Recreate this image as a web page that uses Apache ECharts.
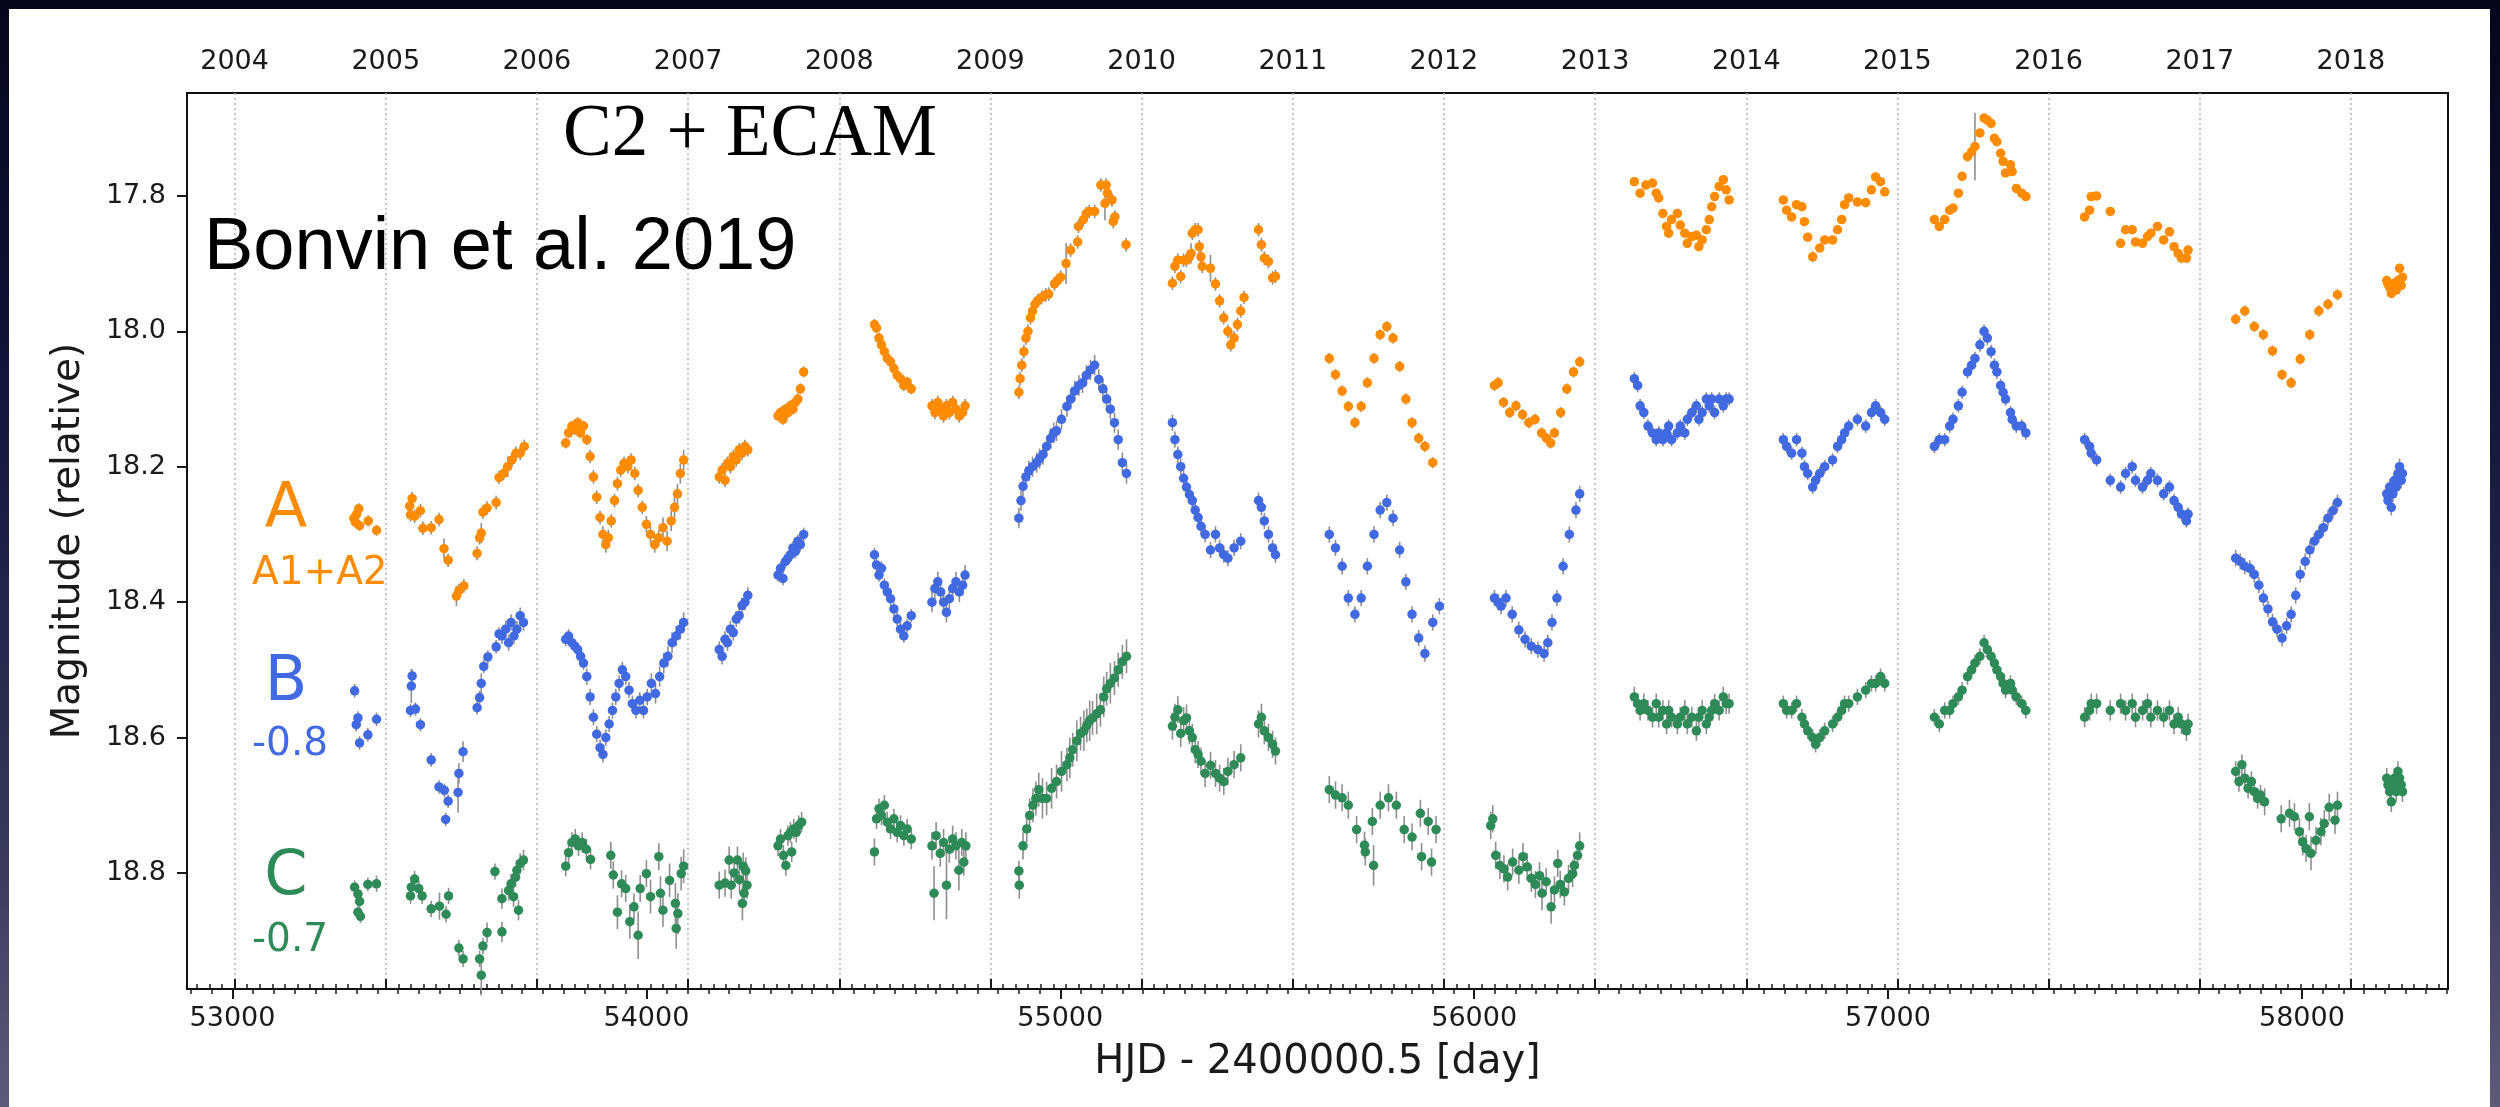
<!DOCTYPE html>
<html>
<head>
<meta charset="utf-8">
<title>C2 + ECAM light curves</title>
<script src="https://cdn.jsdelivr.net/npm/echarts@6/dist/echarts.min.js"></script>
<style>
  html, body { margin: 0; padding: 0; width: 2500px; height: 1107px; overflow: hidden;
    background: linear-gradient(180deg, #05061a 0%, #12143a 35%, #36355a 75%, #5e5a7a 100%); }
  #panel { position: absolute; left: 9px; top: 9px; width: 2481px; height: 1098px; background: #ffffff; }
  #chart { position: absolute; left: 0; top: 0; width: 2500px; height: 1107px; }
</style>
</head>
<body>
<div id="panel"></div>
<div id="chart"></div>
<script>
// Light curves: [HJD - 2400000.5, magnitude as plotted, 1-sigma error]
const curveA = [
  // 2004
  [53293,18.276,0.008],[53297,18.282,0.008],[53300,18.270,0.008],[53305,18.262,0.008],[53307,18.287,0.008],[53328,18.280,0.008],[53348,18.294,0.008],
  // 2005
  [53428,18.258,0.010],[53430,18.271,0.010],[53434,18.247,0.010],[53440,18.273,0.010],[53454,18.265,0.010],[53460,18.291,0.010],[53480,18.290,0.010],
  [53499,18.278,0.010],[53511,18.321,0.015],[53521,18.338,0.010],[53541,18.391,0.015],[53547,18.383,0.010],[53559,18.376,0.010],[53591,18.328,0.010],
  [53597,18.305,0.010],[53601,18.298,0.015],[53605,18.267,0.010],[53615,18.261,0.010],[53637,18.253,0.010],[53644,18.216,0.010],[53655,18.210,0.010],
  [53665,18.200,0.015],[53675,18.190,0.010],[53685,18.180,0.010],[53695,18.180,0.010],[53705,18.170,0.010],
  // 2006
  [53805,18.165,0.008],[53812,18.150,0.008],[53820,18.140,0.008],[53827,18.145,0.008],[53834,18.135,0.008],[53841,18.150,0.008],[53848,18.140,0.008],
  [53856,18.160,0.008],[53864,18.185,0.010],[53872,18.215,0.010],[53880,18.245,0.010],[53888,18.275,0.010],[53895,18.300,0.012],[53902,18.315,0.012],
  [53908,18.305,0.012],[53915,18.280,0.010],[53923,18.250,0.010],[53930,18.225,0.010],[53938,18.205,0.010],[53946,18.195,0.010],[53955,18.200,0.010],
  [53963,18.190,0.010],[53972,18.210,0.010],[53980,18.235,0.010],[53990,18.260,0.010],[54000,18.285,0.012],[54010,18.300,0.012],[54020,18.315,0.012],
  [54030,18.305,0.012],[54040,18.290,0.015],[54050,18.310,0.015],[54060,18.280,0.015],[54068,18.260,0.015],[54075,18.240,0.015],[54082,18.210,0.015],
  [54090,18.190,0.015],
  // 2007
  [54176,18.215,0.010],[54183,18.205,0.010],[54190,18.220,0.010],[54196,18.195,0.010],[54203,18.200,0.010],[54210,18.185,0.010],[54217,18.190,0.010],
  [54224,18.175,0.010],[54231,18.180,0.010],[54238,18.170,0.010],[54245,18.175,0.010],
  [54318,18.125,0.008],[54324,18.120,0.008],[54330,18.130,0.008],[54336,18.115,0.008],[54342,18.120,0.008],[54348,18.110,0.008],[54354,18.115,0.008],
  [54360,18.105,0.008],[54366,18.100,0.008],[54372,18.085,0.008],[54380,18.060,0.008],
  // 2008
  [54551,17.990,0.008],[54556,17.995,0.008],[54562,18.010,0.008],[54568,18.020,0.008],[54575,18.030,0.008],[54582,18.040,0.008],[54590,18.045,0.008],
  [54598,18.055,0.008],[54606,18.065,0.008],[54614,18.070,0.008],[54622,18.080,0.008],[54630,18.075,0.008],[54640,18.085,0.008],
  [54690,18.110,0.010],[54697,18.120,0.010],[54704,18.105,0.010],[54711,18.115,0.010],[54718,18.125,0.010],[54725,18.110,0.010],[54732,18.120,0.010],
  [54740,18.105,0.010],[54748,18.115,0.010],[54756,18.125,0.010],[54764,18.120,0.010],[54770,18.110,0.010],
  // 2009
  [54900,18.090,0.010],[54903,18.070,0.010],[54907,18.050,0.010],[54912,18.030,0.010],[54917,18.010,0.010],[54922,18.000,0.010],[54928,17.980,0.010],
  [54933,17.970,0.010],[54939,17.960,0.010],[54945,17.955,0.010],[54955,17.950,0.010],[54965,17.946,0.010],[54972,17.945,0.010],[54986,17.930,0.010],
  [54993,17.925,0.010],[55001,17.920,0.010],[55014,17.900,0.030],[55025,17.880,0.010],[55042,17.868,0.010],[55044,17.845,0.010],[55056,17.835,0.010],
  [55063,17.826,0.010],[55070,17.823,0.010],[55083,17.823,0.010],[55098,17.784,0.010],[55108,17.811,0.025],[55111,17.784,0.010],[55114,17.796,0.010],
  [55125,17.806,0.010],[55128,17.838,0.010],[55132,17.831,0.010],[55159,17.872,0.010],
  // 2010
  [55271,17.929,0.010],[55277,17.904,0.010],[55284,17.895,0.010],[55291,17.919,0.010],[55298,17.895,0.010],[55305,17.895,0.010],[55312,17.890,0.010],
  [55316,17.885,0.015],[55319,17.855,0.010],[55326,17.850,0.010],[55333,17.850,0.010],[55336,17.875,0.010],[55340,17.890,0.010],[55343,17.904,0.010],
  [55363,17.907,0.020],[55375,17.930,0.010],[55385,17.955,0.010],[55395,17.980,0.010],[55405,18.000,0.010],[55412,18.020,0.010],[55420,18.010,0.010],
  [55428,17.990,0.010],[55436,17.970,0.010],[55444,17.950,0.010],[55479,17.850,0.010],[55486,17.872,0.010],[55493,17.892,0.010],[55503,17.897,0.010],
  [55513,17.921,0.010],[55520,17.919,0.010],
  // 2011
  [55650,18.040,0.008],[55665,18.064,0.008],[55681,18.088,0.008],[55696,18.111,0.008],[55712,18.135,0.008],[55727,18.111,0.008],[55742,18.076,0.008],
  [55758,18.040,0.008],[55773,18.005,0.008],[55789,17.993,0.008],[55804,18.010,0.008],[55820,18.052,0.008],[55835,18.100,0.008],[55850,18.135,0.008],
  [55866,18.158,0.008],[55881,18.170,0.008],[55900,18.194,0.008],
  // 2012
  [56049,18.080,0.008],[56058,18.076,0.008],[56071,18.105,0.008],[56086,18.120,0.008],[56101,18.110,0.008],[56117,18.123,0.008],[56132,18.135,0.008],
  [56147,18.130,0.008],[56163,18.150,0.008],[56175,18.158,0.008],[56185,18.165,0.008],[56194,18.150,0.008],[56209,18.120,0.008],[56224,18.085,0.008],
  [56240,18.060,0.008],[56255,18.045,0.008],
  // 2013
  [56387,17.779,0.006],[56401,17.796,0.006],[56415,17.784,0.006],[56431,17.781,0.006],[56440,17.796,0.006],[56446,17.803,0.006],[56456,17.826,0.006],
  [56465,17.845,0.006],[56470,17.855,0.006],[56477,17.835,0.006],[56491,17.826,0.006],[56498,17.843,0.006],[56509,17.855,0.006],[56515,17.870,0.006],
  [56526,17.860,0.006],[56537,17.858,0.006],[56543,17.875,0.006],[56551,17.865,0.006],[56561,17.850,0.006],[56568,17.835,0.006],[56574,17.816,0.006],
  [56581,17.801,0.006],[56592,17.786,0.006],[56602,17.776,0.006],[56609,17.791,0.006],[56616,17.806,0.006],
  // 2014
  [56747,17.806,0.006],[56755,17.821,0.006],[56767,17.831,0.006],[56779,17.813,0.006],[56792,17.816,0.006],[56798,17.838,0.006],[56806,17.861,0.006],
  [56818,17.890,0.008],[56835,17.877,0.006],[56847,17.865,0.006],[56866,17.865,0.006],[56878,17.850,0.006],[56888,17.835,0.006],[56895,17.813,0.006],
  [56905,17.803,0.006],[56926,17.809,0.006],[56946,17.810,0.006],[56960,17.791,0.006],[56970,17.772,0.006],[56982,17.779,0.006],[56992,17.794,0.006],
  // 2015
  [57112,17.835,0.006],[57124,17.845,0.006],[57137,17.835,0.006],[57149,17.821,0.006],[57157,17.818,0.006],[57170,17.796,0.006],[57179,17.771,0.006],
  [57192,17.742,0.006],[57202,17.735,0.006],[57210,17.727,0.050],[57222,17.707,0.006],[57232,17.685,0.006],[57240,17.688,0.006],[57249,17.693,0.006],
  [57257,17.715,0.006],[57263,17.720,0.006],[57272,17.737,0.006],[57278,17.749,0.006],[57284,17.766,0.006],[57296,17.754,0.006],[57300,17.764,0.006],
  [57310,17.789,0.006],[57323,17.796,0.006],[57333,17.801,0.006],
  // 2016
  [57475,17.831,0.006],[57487,17.821,0.006],[57491,17.801,0.006],[57504,17.800,0.006],[57537,17.823,0.006],[57562,17.870,0.006],[57574,17.850,0.006],
  [57590,17.850,0.006],[57598,17.868,0.006],[57615,17.870,0.006],[57627,17.860,0.006],[57635,17.855,0.006],[57651,17.845,0.006],[57666,17.865,0.006],
  [57680,17.853,0.006],[57691,17.875,0.006],[57701,17.885,0.006],[57709,17.892,0.006],[57721,17.892,0.006],[57725,17.880,0.006],
  // 2017
  [57840,17.982,0.008],[57862,17.970,0.008],[57885,17.993,0.008],[57907,18.005,0.008],[57929,18.029,0.008],[57952,18.064,0.008],[57974,18.076,0.008],
  [57996,18.041,0.008],[58019,18.005,0.008],[58041,17.970,0.008],[58063,17.960,0.008],[58086,17.946,0.008],
  // 2018
  [58205,17.925,0.006],[58208,17.930,0.006],[58212,17.935,0.006],[58216,17.944,0.006],[58220,17.930,0.006],[58224,17.929,0.006],[58228,17.939,0.006],
  [58232,17.925,0.006],[58236,17.907,0.006],[58240,17.932,0.006],[58243,17.920,0.006]
];

const curveB = [
  // 2004
  [53295,18.531,0.010],[53303,18.571,0.010],[53299,18.581,0.010],[53307,18.608,0.010],[53327,18.596,0.010],[53348,18.573,0.010],
  // 2005
  [53432,18.524,0.025],[53434,18.509,0.010],[53430,18.560,0.010],[53442,18.558,0.010],[53454,18.581,0.010],[53480,18.633,0.010],[53499,18.673,0.010],
  [53512,18.678,0.010],[53521,18.694,0.010],[53515,18.721,0.010],[53545,18.681,0.030],[53547,18.653,0.015],[53557,18.621,0.015],[53591,18.556,0.010],
  [53597,18.541,0.010],[53601,18.520,0.015],[53607,18.495,0.010],[53617,18.481,0.010],[53637,18.466,0.010],[53644,18.447,0.010],[53651,18.450,0.012],
  [53660,18.440,0.012],[53667,18.460,0.012],[53673,18.430,0.012],[53680,18.450,0.012],[53687,18.440,0.012],[53695,18.420,0.012],[53703,18.430,0.012],
  // 2006
  [53805,18.455,0.010],[53812,18.450,0.010],[53820,18.460,0.010],[53827,18.465,0.010],[53834,18.470,0.010],[53841,18.480,0.010],[53848,18.490,0.010],
  [53856,18.510,0.012],[53864,18.540,0.012],[53872,18.570,0.012],[53880,18.595,0.012],[53888,18.615,0.012],[53895,18.625,0.012],[53902,18.600,0.012],
  [53910,18.580,0.012],[53918,18.560,0.012],[53926,18.540,0.012],[53934,18.520,0.012],[53942,18.500,0.012],[53950,18.510,0.012],[53958,18.530,0.012],
  [53966,18.550,0.012],[53975,18.560,0.012],[53984,18.545,0.012],[53993,18.560,0.012],[54002,18.540,0.012],[54012,18.520,0.015],[54022,18.535,0.015],
  [54032,18.510,0.015],[54042,18.490,0.015],[54052,18.480,0.015],[54062,18.460,0.015],[54072,18.450,0.015],[54082,18.440,0.015],[54090,18.430,0.015],
  // 2007
  [54176,18.470,0.012],[54183,18.480,0.012],[54190,18.455,0.012],[54196,18.460,0.012],[54203,18.440,0.012],[54210,18.445,0.012],[54217,18.425,0.012],
  [54224,18.420,0.012],[54231,18.405,0.012],[54238,18.400,0.012],[54245,18.390,0.012],
  [54318,18.360,0.010],[54324,18.350,0.010],[54330,18.365,0.010],[54336,18.340,0.010],[54342,18.335,0.010],[54348,18.330,0.010],[54354,18.320,0.010],
  [54360,18.325,0.010],[54366,18.310,0.010],[54372,18.315,0.010],[54380,18.300,0.010],
  // 2008
  [54551,18.330,0.010],[54556,18.345,0.010],[54562,18.360,0.010],[54568,18.350,0.010],[54575,18.375,0.010],[54582,18.385,0.010],[54590,18.395,0.010],
  [54598,18.410,0.010],[54606,18.425,0.010],[54614,18.440,0.010],[54622,18.450,0.010],[54630,18.435,0.010],[54640,18.420,0.010],
  [54690,18.400,0.015],[54697,18.380,0.015],[54704,18.370,0.015],[54711,18.385,0.015],[54718,18.400,0.015],[54725,18.415,0.015],[54732,18.395,0.015],
  [54740,18.380,0.015],[54748,18.370,0.015],[54756,18.385,0.015],[54764,18.375,0.015],[54770,18.360,0.015],
  // 2009
  [54900,18.276,0.015],[54905,18.250,0.015],[54910,18.229,0.015],[54917,18.215,0.015],[54924,18.206,0.015],[54933,18.200,0.015],[54943,18.194,0.015],
  [54950,18.188,0.015],[54958,18.182,0.015],[54967,18.170,0.015],[54977,18.158,0.015],[54984,18.150,0.015],[54991,18.147,0.015],[55003,18.130,0.015],
  [55016,18.111,0.015],[55025,18.100,0.015],[55035,18.088,0.015],[55045,18.080,0.015],[55054,18.076,0.015],[55063,18.065,0.015],[55073,18.057,0.015],
  [55083,18.050,0.015],[55093,18.071,0.015],[55103,18.085,0.015],[55112,18.100,0.015],[55121,18.115,0.015],[55131,18.135,0.015],[55140,18.160,0.015],
  [55150,18.194,0.015],[55160,18.210,0.015],
  // 2010
  [55271,18.135,0.012],[55277,18.160,0.012],[55284,18.182,0.012],[55291,18.200,0.012],[55298,18.217,0.012],[55305,18.230,0.012],[55312,18.241,0.012],
  [55319,18.250,0.012],[55326,18.264,0.012],[55333,18.275,0.012],[55340,18.288,0.012],[55350,18.300,0.012],[55363,18.323,0.012],[55375,18.300,0.012],
  [55385,18.320,0.012],[55395,18.330,0.012],[55405,18.335,0.012],[55420,18.320,0.012],[55436,18.310,0.012],
  [55479,18.250,0.012],[55486,18.260,0.012],[55493,18.280,0.012],[55503,18.300,0.012],[55513,18.320,0.012],[55520,18.330,0.012],
  // 2011
  [55650,18.300,0.012],[55665,18.320,0.012],[55681,18.347,0.012],[55696,18.394,0.012],[55712,18.418,0.012],[55727,18.394,0.012],[55742,18.347,0.012],
  [55758,18.300,0.012],[55773,18.264,0.012],[55789,18.253,0.012],[55804,18.276,0.012],[55820,18.323,0.012],[55835,18.370,0.012],[55850,18.418,0.012],
  [55866,18.453,0.012],[55881,18.476,0.012],[55900,18.430,0.012],[55916,18.406,0.012],
  // 2012
  [56049,18.394,0.012],[56058,18.400,0.012],[56065,18.406,0.012],[56077,18.394,0.012],[56092,18.418,0.012],[56108,18.441,0.012],[56123,18.455,0.012],
  [56138,18.465,0.012],[56154,18.470,0.012],[56169,18.476,0.012],[56178,18.460,0.012],[56188,18.430,0.012],[56200,18.394,0.012],[56215,18.347,0.012],
  [56230,18.300,0.012],[56246,18.264,0.012],[56255,18.240,0.012],
  // 2013
  [56387,18.070,0.010],[56395,18.080,0.010],[56401,18.110,0.010],[56410,18.120,0.010],[56420,18.140,0.010],[56431,18.150,0.010],[56440,18.160,0.010],
  [56446,18.150,0.010],[56456,18.160,0.010],[56465,18.150,0.010],[56470,18.140,0.010],[56477,18.160,0.010],[56491,18.150,0.010],[56498,18.140,0.010],
  [56509,18.150,0.010],[56515,18.130,0.010],[56526,18.120,0.010],[56537,18.110,0.010],[56543,18.130,0.010],[56551,18.120,0.010],[56561,18.100,0.010],
  [56568,18.110,0.010],[56574,18.100,0.010],[56581,18.120,0.010],[56592,18.100,0.010],[56602,18.110,0.010],[56609,18.100,0.010],[56616,18.100,0.010],
  // 2014
  [56747,18.160,0.010],[56755,18.170,0.010],[56767,18.180,0.010],[56779,18.160,0.010],[56792,18.180,0.010],[56798,18.200,0.010],[56806,18.210,0.010],
  [56818,18.230,0.010],[56825,18.220,0.010],[56835,18.210,0.010],[56847,18.200,0.010],[56866,18.190,0.010],[56878,18.170,0.010],[56888,18.160,0.010],
  [56895,18.150,0.010],[56905,18.140,0.010],[56926,18.130,0.010],[56946,18.140,0.010],[56960,18.120,0.010],[56970,18.110,0.010],[56982,18.120,0.010],
  [56992,18.130,0.010],
  // 2015
  [57112,18.170,0.010],[57124,18.160,0.010],[57137,18.160,0.010],[57149,18.140,0.010],[57157,18.130,0.010],[57170,18.110,0.010],[57179,18.090,0.010],
  [57192,18.060,0.010],[57202,18.050,0.010],[57210,18.040,0.010],[57222,18.020,0.010],[57232,18.000,0.010],[57240,18.010,0.010],[57249,18.030,0.010],
  [57257,18.050,0.010],[57263,18.060,0.010],[57272,18.080,0.010],[57278,18.090,0.010],[57284,18.100,0.010],[57296,18.120,0.010],[57300,18.130,0.010],
  [57310,18.140,0.010],[57323,18.140,0.010],[57333,18.150,0.010],
  // 2016
  [57475,18.160,0.010],[57487,18.170,0.010],[57491,18.180,0.010],[57504,18.190,0.010],[57537,18.220,0.010],[57562,18.230,0.010],[57574,18.210,0.010],
  [57590,18.200,0.010],[57598,18.220,0.010],[57615,18.230,0.010],[57627,18.220,0.010],[57635,18.210,0.010],[57651,18.220,0.010],[57666,18.240,0.010],
  [57680,18.230,0.010],[57691,18.250,0.010],[57701,18.260,0.010],[57709,18.270,0.010],[57721,18.280,0.010],[57725,18.270,0.010],
  // 2017
  [57840,18.335,0.012],[57851,18.340,0.012],[57862,18.347,0.012],[57874,18.350,0.012],[57885,18.359,0.012],[57896,18.375,0.012],[57907,18.394,0.012],
  [57918,18.410,0.012],[57929,18.429,0.012],[57940,18.440,0.012],[57952,18.453,0.012],[57963,18.435,0.012],[57974,18.418,0.012],[57985,18.390,0.012],
  [57996,18.359,0.012],[58008,18.340,0.012],[58019,18.323,0.012],[58030,18.310,0.012],[58041,18.300,0.012],[58052,18.290,0.012],[58063,18.276,0.012],
  [58075,18.265,0.012],[58086,18.253,0.012],
  // 2018
  [58205,18.240,0.012],[58208,18.250,0.012],[58212,18.230,0.012],[58216,18.260,0.012],[58220,18.240,0.012],[58224,18.220,0.012],[58228,18.230,0.012],
  [58232,18.210,0.012],[58236,18.200,0.012],[58240,18.220,0.012],[58243,18.210,0.012]
];

const curveC = [
  // 2004
  [53295,18.821,0.010],[53303,18.831,0.010],[53307,18.842,0.010],[53303,18.858,0.010],[53309,18.864,0.010],[53327,18.817,0.010],[53348,18.816,0.012],
  // 2005
  [53432,18.821,0.012],[53440,18.809,0.012],[53430,18.834,0.012],[53450,18.823,0.012],[53458,18.834,0.012],[53480,18.853,0.012],[53500,18.849,0.020],
  [53516,18.861,0.012],[53522,18.834,0.012],[53547,18.911,0.012],[53557,18.927,0.012],[53601,18.951,0.030],[53597,18.927,0.012],[53605,18.908,0.012],
  [53615,18.888,0.015],[53634,18.798,0.012],[53651,18.887,0.015],[53651,18.838,0.015],[53667,18.826,0.015],[53673,18.816,0.015],[53684,18.806,0.015],
  [53687,18.796,0.015],[53695,18.786,0.015],[53703,18.781,0.015],[53691,18.855,0.015],[53679,18.835,0.015],
  // 2006
  [53805,18.790,0.015],[53812,18.770,0.015],[53820,18.755,0.015],[53828,18.750,0.015],[53836,18.760,0.015],[53845,18.755,0.015],[53855,18.765,0.015],
  [53865,18.780,0.015],[53914,18.774,0.020],[53920,18.803,0.020],[53930,18.858,0.025],[53940,18.816,0.020],[53950,18.823,0.020],[53960,18.872,0.025],
  [53970,18.850,0.020],[53980,18.892,0.035],[53985,18.823,0.020],[54000,18.801,0.020],[54010,18.835,0.025],[54030,18.776,0.020],[54034,18.830,0.025],
  [54040,18.855,0.025],[54056,18.811,0.025],[54070,18.845,0.030],[54072,18.882,0.030],[54076,18.860,0.030],[54084,18.801,0.025],[54090,18.790,0.025],
  // 2007
  [54176,18.818,0.020],[54190,18.815,0.020],[54200,18.781,0.020],[54205,18.818,0.020],[54212,18.800,0.020],[54220,18.781,0.020],[54225,18.810,0.020],
  [54232,18.845,0.025],[54234,18.790,0.020],[54236,18.830,0.020],[54240,18.797,0.020],[54243,18.818,0.020],
  [54318,18.760,0.015],[54324,18.750,0.015],[54331,18.774,0.015],[54337,18.789,0.015],[54342,18.745,0.015],[54348,18.740,0.015],[54351,18.769,0.015],
  [54356,18.735,0.015],[54362,18.740,0.015],[54368,18.730,0.015],[54375,18.725,0.015],
  // 2008
  [54551,18.769,0.020],[54556,18.720,0.015],[54562,18.705,0.015],[54568,18.715,0.015],[54575,18.700,0.015],[54582,18.725,0.015],[54590,18.735,0.015],
  [54598,18.720,0.015],[54606,18.740,0.015],[54614,18.730,0.015],[54622,18.745,0.015],[54630,18.735,0.015],[54640,18.750,0.015],
  [54690,18.760,0.020],[54695,18.830,0.040],[54700,18.745,0.020],[54710,18.771,0.020],[54718,18.755,0.020],[54725,18.818,0.050],[54732,18.765,0.020],
  [54740,18.750,0.020],[54748,18.760,0.020],[54755,18.796,0.030],[54762,18.755,0.020],[54767,18.784,0.020],[54772,18.760,0.020],
  // 2009
  [54900,18.797,0.015],[54901,18.818,0.020],[54910,18.760,0.020],[54919,18.735,0.020],[54926,18.715,0.025],[54934,18.700,0.025],[54941,18.690,0.025],
  [54948,18.677,0.025],[54957,18.690,0.030],[54967,18.690,0.025],[54979,18.675,0.030],[54991,18.665,0.025],[55003,18.650,0.030],[55016,18.640,0.025],
  [55023,18.630,0.030],[55030,18.618,0.025],[55040,18.605,0.030],[55049,18.594,0.025],[55057,18.590,0.030],[55064,18.582,0.025],[55071,18.575,0.030],
  [55078,18.571,0.025],[55088,18.565,0.030],[55097,18.559,0.025],[55105,18.540,0.030],[55112,18.528,0.025],[55121,18.520,0.030],[55131,18.512,0.025],
  [55140,18.500,0.025],[55150,18.488,0.025],[55160,18.480,0.025],
  // 2010
  [55271,18.583,0.020],[55277,18.570,0.020],[55284,18.559,0.020],[55291,18.594,0.020],[55298,18.575,0.020],[55305,18.571,0.020],[55312,18.590,0.020],
  [55319,18.600,0.020],[55326,18.618,0.020],[55333,18.625,0.020],[55340,18.635,0.020],[55350,18.653,0.020],[55363,18.641,0.020],[55375,18.653,0.020],
  [55385,18.660,0.020],[55395,18.665,0.020],[55405,18.650,0.020],[55420,18.640,0.020],[55436,18.630,0.020],
  [55479,18.580,0.020],[55486,18.570,0.020],[55493,18.590,0.020],[55503,18.600,0.020],[55513,18.610,0.020],[55520,18.620,0.020],
  // 2011
  [55650,18.677,0.020],[55665,18.685,0.020],[55681,18.689,0.020],[55696,18.700,0.020],[55716,18.736,0.020],[55735,18.759,0.020],[55737,18.769,0.020],
  [55754,18.724,0.020],[55757,18.789,0.030],[55773,18.700,0.020],[55793,18.689,0.020],[55812,18.700,0.020],[55831,18.736,0.020],[55850,18.747,0.020],
  [55870,18.712,0.020],[55873,18.776,0.020],[55889,18.724,0.020],[55897,18.784,0.020],[55908,18.736,0.020],
  // 2012
  [56040,18.730,0.020],[56045,18.720,0.020],[56052,18.774,0.020],[56062,18.789,0.020],[56072,18.794,0.020],[56081,18.806,0.020],[56093,18.784,0.020],
  [56108,18.796,0.020],[56118,18.776,0.020],[56128,18.791,0.020],[56138,18.808,0.020],[56148,18.817,0.020],[56158,18.804,0.020],[56164,18.830,0.025],
  [56174,18.813,0.020],[56186,18.850,0.025],[56194,18.825,0.020],[56202,18.786,0.020],[56208,18.817,0.020],[56218,18.828,0.020],[56228,18.808,0.020],
  [56238,18.801,0.020],[56242,18.789,0.020],[56250,18.774,0.020],[56255,18.760,0.020],
  // 2013
  [56387,18.540,0.015],[56395,18.550,0.015],[56401,18.560,0.015],[56410,18.550,0.015],[56420,18.560,0.015],[56431,18.570,0.015],[56440,18.550,0.015],
  [56446,18.570,0.015],[56456,18.560,0.015],[56465,18.580,0.015],[56470,18.560,0.015],[56477,18.570,0.015],[56491,18.580,0.015],[56498,18.570,0.015],
  [56509,18.560,0.015],[56515,18.580,0.015],[56526,18.570,0.015],[56537,18.590,0.015],[56543,18.570,0.015],[56551,18.560,0.015],[56561,18.580,0.015],
  [56568,18.570,0.015],[56574,18.560,0.015],[56581,18.550,0.015],[56592,18.560,0.015],[56602,18.540,0.015],[56609,18.550,0.015],[56616,18.550,0.015],
  // 2014
  [56747,18.550,0.012],[56755,18.560,0.012],[56767,18.560,0.012],[56779,18.550,0.012],[56792,18.570,0.012],[56798,18.580,0.012],[56806,18.590,0.012],
  [56818,18.600,0.012],[56825,18.610,0.012],[56835,18.600,0.012],[56847,18.590,0.012],[56866,18.580,0.012],[56878,18.570,0.012],[56888,18.560,0.012],
  [56895,18.550,0.012],[56905,18.550,0.012],[56926,18.540,0.012],[56946,18.530,0.012],[56960,18.520,0.012],[56970,18.520,0.012],[56982,18.510,0.012],
  [56992,18.520,0.012],
  // 2015
  [57112,18.570,0.012],[57124,18.580,0.012],[57137,18.560,0.012],[57149,18.560,0.012],[57157,18.550,0.012],[57170,18.540,0.012],[57179,18.530,0.012],
  [57192,18.510,0.012],[57202,18.500,0.012],[57210,18.490,0.012],[57222,18.480,0.012],[57232,18.460,0.012],[57240,18.470,0.012],[57249,18.480,0.012],
  [57257,18.490,0.012],[57263,18.500,0.012],[57272,18.510,0.012],[57278,18.520,0.012],[57284,18.530,0.012],[57296,18.520,0.012],[57300,18.530,0.012],
  [57310,18.540,0.012],[57323,18.550,0.012],[57333,18.560,0.012],
  // 2016
  [57475,18.570,0.015],[57487,18.560,0.015],[57491,18.550,0.015],[57504,18.550,0.015],[57537,18.560,0.015],[57562,18.550,0.015],[57574,18.560,0.015],
  [57590,18.550,0.015],[57598,18.570,0.015],[57615,18.560,0.015],[57627,18.550,0.015],[57635,18.570,0.015],[57651,18.560,0.015],[57666,18.570,0.015],
  [57680,18.560,0.015],[57691,18.580,0.015],[57701,18.570,0.015],[57709,18.580,0.015],[57721,18.590,0.015],[57725,18.580,0.015],
  // 2017
  [57840,18.650,0.015],[57848,18.665,0.015],[57855,18.640,0.015],[57862,18.660,0.015],[57870,18.675,0.015],[57878,18.665,0.015],[57885,18.680,0.015],
  [57893,18.690,0.015],[57900,18.685,0.015],[57910,18.695,0.020],[57950,18.720,0.020],[57970,18.712,0.020],[57982,18.717,0.020],[57994,18.739,0.020],
  [58002,18.754,0.020],[58010,18.764,0.020],[58018,18.717,0.020],[58022,18.771,0.025],[58034,18.752,0.020],[58046,18.739,0.020],[58054,18.727,0.020],
  [58066,18.703,0.020],[58080,18.722,0.020],[58086,18.700,0.020],
  // 2018
  [58205,18.660,0.015],[58208,18.670,0.015],[58212,18.680,0.015],[58216,18.695,0.015],[58220,18.670,0.015],[58224,18.660,0.015],[58228,18.680,0.015],
  [58232,18.650,0.015],[58236,18.660,0.015],[58240,18.670,0.015],[58243,18.680,0.015]
];

// Axis ranges
const xDomain = [52890, 58353];     // HJD - 2400000.5
const yDomain = [17.648, 18.9714];  // magnitude, brighter at the top
const yTickRange = [17.8, 18.8];
const yearRange = [2004, 2018];

// Plot frame in page pixels
const frame = { left: 187, right: 2448, top: 93, bottom: 989 };
const W = 2500, H = 1107;
const kx = (frame.right - frame.left) / (xDomain[1] - xDomain[0]);
const ky = (frame.bottom - frame.top) / (yDomain[1] - yDomain[0]);
const px = m => frame.left + (m - xDomain[0]) * kx;
const py = v => frame.top + (v - yDomain[0]) * ky;

// Calendar years / months on the upper axis, in MJD
const MJD_2004 = 53005, YEAR_DAYS = 365.25, MONTH_DAYS = YEAR_DAYS / 12;
const mjdOfYear = y => MJD_2004 + (y - 2004) * YEAR_DAYS;
const monthRange = [2003 * 12 + 9, 2018 * 12 + 7];
const mjdOfMonth = n => MJD_2004 + (n - 2004 * 12) * MONTH_DAYS;

const FONT = 'DejaVu Sans';
const INK = '#1a1a1a';

function gridBox(x0, x1, y0, y1, show) {
  return { left: x0, top: y0, width: x1 - x0, height: y1 - y0, show: !!show,
           borderColor: '#111', borderWidth: 2, backgroundColor: 'transparent', containLabel: false };
}
const hiddenAxis = (idx) => ({ type: 'value', gridIndex: idx, min: 0, max: 1, show: false });

const grids = [
  gridBox(frame.left, frame.right, frame.top, frame.bottom, true),                 // data
  gridBox(px(52900), px(58350), frame.top, frame.bottom),                           // 50-day ticks
  gridBox(px(53000), px(58000), frame.top, frame.bottom),                           // 1000-day ticks
  gridBox(px(mjdOfMonth(monthRange[0])), px(mjdOfMonth(monthRange[1])), frame.top, frame.bottom), // months
  gridBox(px(mjdOfYear(yearRange[0])), px(mjdOfYear(yearRange[1])), frame.top, frame.bottom),     // years
  gridBox(frame.left, frame.right, py(yTickRange[0]), py(yTickRange[1]))            // magnitude ticks
];

const xAxes = [
  { type: 'value', gridIndex: 0, min: xDomain[0], max: xDomain[1], show: false },
  { type: 'value', gridIndex: 1, min: 52900, max: 58350, interval: 50, position: 'bottom',
    axisLine: { show: false }, splitLine: { show: false }, axisLabel: { show: false },
    axisTick: { show: true, length: 5, lineStyle: { color: INK, width: 1.5 } } },
  { type: 'value', gridIndex: 2, min: 53000, max: 58000, interval: 1000, position: 'bottom',
    axisLine: { show: false }, splitLine: { show: false },
    axisTick: { show: true, length: 10, lineStyle: { color: INK, width: 2 } },
    axisLabel: { show: true, margin: 16, fontFamily: FONT, fontSize: 27, color: INK,
                 showMinLabel: true, showMaxLabel: true, formatter: v => String(v) } },
  { type: 'value', gridIndex: 3, min: monthRange[0], max: monthRange[1], interval: 1, position: 'top',
    axisLine: { show: false }, splitLine: { show: false }, axisLabel: { show: false },
    axisTick: { show: true, length: 5, lineStyle: { color: INK, width: 1.5 } } },
  { type: 'value', gridIndex: 4, min: yearRange[0], max: yearRange[1], interval: 1, position: 'top',
    axisLine: { show: false },
    splitLine: { show: true, lineStyle: { color: '#b4b4b4', width: 1.5, type: [2, 3] } },
    axisTick: { show: true, length: 10, lineStyle: { color: INK, width: 2 } },
    axisLabel: { show: true, margin: 18, fontFamily: FONT, fontSize: 27, color: INK,
                 showMinLabel: true, showMaxLabel: true, formatter: v => String(v) } },
  hiddenAxis(5)
];

const yAxes = [
  { type: 'value', gridIndex: 0, min: yDomain[0], max: yDomain[1], inverse: true, show: false },
  hiddenAxis(1), hiddenAxis(2), hiddenAxis(3), hiddenAxis(4),
  { type: 'value', gridIndex: 5, min: yTickRange[0] * 10, max: yTickRange[1] * 10, interval: 2, inverse: true,
    position: 'left', axisLine: { show: false }, splitLine: { show: false },
    axisTick: { show: true, length: 10, lineStyle: { color: INK, width: 2 } },
    axisLabel: { show: true, margin: 21, fontFamily: FONT, fontSize: 27, color: INK,
                 showMinLabel: true, showMaxLabel: true, formatter: v => (v / 10).toFixed(1) } }
];

const curves = [
  { name: 'A', data: curveA, color: '#ff8c00' },
  { name: 'B', data: curveB, color: '#4169e1' },
  { name: 'C', data: curveC, color: '#2e8b57' }
];

function errorBar(params, api) {
  const x = api.value(0), y = api.value(1), e = api.value(2);
  const p0 = api.coord([x, y - e]), p1 = api.coord([x, y + e]);
  return { type: 'line', shape: { x1: p0[0], y1: p0[1], x2: p1[0], y2: p1[1] },
           style: { stroke: '#8f8f8f', lineWidth: 1.6 } };
}

const series = [];
curves.forEach(c => {
  series.push({ type: 'custom', name: c.name + ' error', xAxisIndex: 0, yAxisIndex: 0,
                data: c.data, dimensions: ['t', 'mag', 'err'], encode: { x: 0, y: 1 },
                renderItem: errorBar, silent: true, z: 2 });
  series.push({ type: 'scatter', name: c.name, xAxisIndex: 0, yAxisIndex: 0,
                data: c.data.map(d => [d[0], d[1]]), symbol: 'circle', symbolSize: 9.5,
                itemStyle: { color: c.color, opacity: 1 }, z: 3, silent: true });
});

const label = (x, y, str, size, color, align) => ({
  type: 'text', x, y, silent: true, z: 10,
  style: { text: str, fontFamily: FONT, fontSize: size, fill: color, align: align || 'center', verticalAlign: 'middle' }
});

const graphics = [
  label(286, 511, 'A', 62, '#ff8c00'),
  label(252, 574, 'A1+A2', 39, '#ff8c00', 'left'),
  label(286, 684, 'B', 62, '#4169e1'),
  label(252, 745, '-0.8', 39, '#4169e1', 'left'),
  label(286, 878, 'C', 62, '#2e8b57'),
  label(252, 941, '-0.7', 39, '#2e8b57', 'left'),
  { type: 'text', x: 204, y: 249, silent: true, z: 10,
    style: { text: 'Bonvin et al. 2019', fontFamily: 'Liberation Sans', fontSize: 74, fill: '#000', align: 'left', verticalAlign: 'middle' } },
  { type: 'text', x: 750, y: 136, silent: true, z: 10,
    style: { text: 'C2 + ECAM', fontFamily: 'Liberation Serif', fontSize: 73, fill: '#000', align: 'center', verticalAlign: 'middle' } },
  { type: 'text', x: 69, y: (frame.top + frame.bottom) / 2, rotation: Math.PI / 2, silent: true, z: 10,
    style: { text: 'Magnitude (relative)', fontFamily: FONT, fontSize: 39, fill: INK, align: 'center', verticalAlign: 'middle' } },
  { type: 'text', x: (frame.left + frame.right) / 2, y: 1063, silent: true, z: 10,
    style: { text: 'HJD - 2400000.5 [day]', fontFamily: FONT, fontSize: 40, fill: INK, align: 'center', verticalAlign: 'middle' } }
];

const chart = echarts.init(document.getElementById('chart'), null, { renderer: 'canvas', width: W, height: H });
chart.setOption({
  animation: false,
  backgroundColor: 'transparent',
  grid: grids,
  xAxis: xAxes,
  yAxis: yAxes,
  series: series,
  graphic: graphics
});
</script>
</body>
</html>
